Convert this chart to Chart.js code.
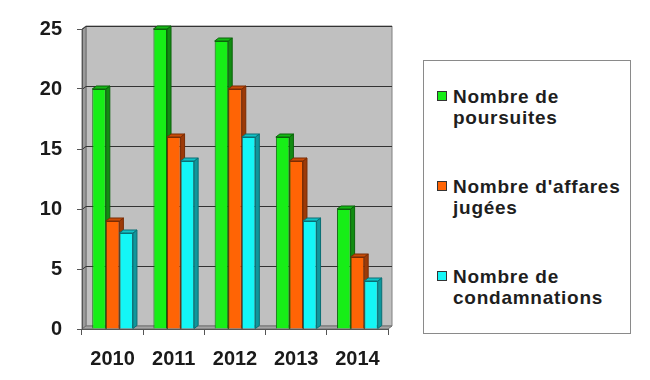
<!DOCTYPE html>
<html>
<head>
<meta charset="utf-8">
<script src="https://cdn.jsdelivr.net/npm/chart.js@4"></script>
<style>
  html, body { margin: 0; padding: 0; background: #ffffff; overflow: hidden; }
  #wrap { position: relative; width: 650px; height: 380px; }
  #c { display: block; position: absolute; left: 0; top: 0; }
  #legend { position: absolute; left: 423px; top: 60px; width: 206px; height: 272px;
            border: 1px solid #8a8a8a; box-sizing: content-box; background: #fff; }
  .item { position: absolute; left: 0; width: 206px; }
  .sq { position: absolute; left: 13px; width: 8px; height: 8px; border: 1px solid #333; }
  .txt { position: absolute; left: 29px; font-family: "Liberation Sans", Arial, sans-serif;
         font-weight: bold; font-size: 19px; line-height: 21px; letter-spacing: 0.75px;
         color: #1e1e1e; white-space: nowrap; }
</style>
</head>
<body>
<div id="wrap">
  <canvas id="c" width="650" height="380"></canvas>
  <div id="legend"></div>
</div>
<script>
// ---- data ----
const categories = ['2010', '2011', '2012', '2013', '2014'];
const poursuites = [20, 25, 24, 16, 10];
const affairesJugees = [9, 16, 20, 14, 6];
const condamnations = [8, 14, 16, 9, 4];
const seriesLabels = ['Nombre de poursuites', "Nombre d'affares jugées", 'Nombre de condamnations'];
const legendLines = [['Nombre de', 'poursuites'], ["Nombre d'affares", 'jugées'], ['Nombre de', 'condamnations']];
const yTicks = [0, 5, 10, 15, 20, 25];

// ---- styles ----
const frontColors = ['#17ee17', '#ff6405', '#14f6f6'];
const sideColors  = ['#128c12', '#9c3a08', '#0f979c'];
const topColors   = ['#15b815', '#c84c08', '#12c2c6'];
const edgeColors  = ['#0b640b', '#7a2c04', '#0a6f74'];
const DX = 4, DY = 3;

function poly(ctx, pts, fill, stroke) {
  ctx.beginPath();
  ctx.moveTo(pts[0][0], pts[0][1]);
  for (let i = 1; i < pts.length; i++) ctx.lineTo(pts[i][0], pts[i][1]);
  ctx.closePath();
  if (fill) { ctx.fillStyle = fill; ctx.fill(); }
  if (stroke) { ctx.strokeStyle = stroke; ctx.lineWidth = 1; ctx.stroke(); }
}

const walls = {
  id: 'walls',
  beforeDraw(chart) {
    const ctx = chart.ctx, a = chart.chartArea, ys = chart.scales.y;
    const L = a.left, R = a.right, T = a.top, B = a.bottom;
    ctx.save();
    // back wall
    poly(ctx, [[L + DX, T - DY], [R + DX, T - DY], [R + DX, B - DY], [L + DX, B - DY]], '#c0c0c0', '#808080');
    // left wall
    poly(ctx, [[L, T], [L + DX, T - DY], [L + DX, B - DY], [L, B]], '#9a9a9a', '#707070');
    // floor
    poly(ctx, [[L, B], [L + DX, B - DY], [R + DX, B - DY], [R, B]], '#a4a4a4', '#707070');
    // gridlines
    ctx.strokeStyle = '#333333';
    ctx.lineWidth = 1;
    yTicks.forEach(v => {
      if (v === 0) return;
      const y = Math.round(ys.getPixelForValue(v)) + 0.5;
      ctx.beginPath();
      ctx.moveTo(L, y);
      ctx.lineTo(L + DX, y - DY);
      ctx.lineTo(R + DX, y - DY);
      ctx.stroke();
    });
    ctx.restore();
  },
  beforeDatasetsDraw(chart) {
    const ctx = chart.ctx;
    const metas = chart.data.datasets.map((d, i) => chart.getDatasetMeta(i));
    ctx.save();
    for (let i = 0; i < categories.length; i++) {
      metas.forEach((meta, d) => {
        const el = meta.data[i];
        if (!el) return;
        const l = el.x - el.width / 2, r = el.x + el.width / 2, t = el.y, b = el.base;
        poly(ctx, [[r, t], [r + DX, t - DY], [r + DX, b - DY], [r, b]], sideColors[d], edgeColors[d]);
        poly(ctx, [[l, t], [l + DX, t - DY], [r + DX, t - DY], [r, t]], topColors[d], edgeColors[d]);
      });
    }
    ctx.restore();
  }
};

const seriesData = [poursuites, affairesJugees, condamnations];
const axisFont = { family: '"Liberation Sans", Arial, sans-serif', size: 20, weight: 'bold' };

new Chart(document.getElementById('c'), {
  type: 'bar',
  data: {
    labels: categories,
    datasets: seriesData.map((arr, i) => ({
      label: seriesLabels[i],
      data: arr,
      backgroundColor: frontColors[i],
      borderColor: edgeColors[i],
      borderWidth: 1,
      categoryPercentage: 0.665,
      barPercentage: 1.0
    }))
  },
  options: {
    responsive: false,
    animation: false,
    events: [],
    layout: { padding: { top: 29, right: 262, left: 0, bottom: 0 } },
    plugins: { legend: { display: false }, tooltip: { enabled: false } },
    scales: {
      y: {
        min: 0, max: 25,
        afterBuildTicks(s) { s.ticks = yTicks.map(v => ({ value: v })); },
        afterFit(s) { s.width = 82; },
        ticks: { font: axisFont, color: '#1a1a1a', padding: 15 },
        grid: { drawOnChartArea: false, tickLength: 5, color: '#555555' },
        border: { display: true, color: '#555555' }
      },
      x: {
        afterFit(s) { s.height = 51; },
        ticks: { font: axisFont, color: '#1a1a1a', padding: 12, maxRotation: 0 },
        grid: { offset: true, drawOnChartArea: false, tickLength: 6, color: '#555555' },
        border: { display: true, color: '#555555' }
      }
    }
  },
  plugins: [walls]
});

// ---- legend (HTML text) ----
const legend = document.getElementById('legend');
const itemTops = [25, 115, 205]; // line top of first text line inside legend box
legendLines.forEach((lines, i) => {
  const item = document.createElement('div');
  item.className = 'item';
  item.style.top = itemTops[i] + 'px';
  const sq = document.createElement('div');
  sq.className = 'sq';
  sq.style.top = '5px';
  sq.style.background = frontColors[i];
  const txt = document.createElement('div');
  txt.className = 'txt';
  txt.style.top = '0px';
  txt.innerHTML = lines.map(s => s.replace(/&/g, '&amp;').replace(/</g, '&lt;')).join('<br>');
  item.appendChild(sq);
  item.appendChild(txt);
  legend.appendChild(item);
});
</script>
</body>
</html>
